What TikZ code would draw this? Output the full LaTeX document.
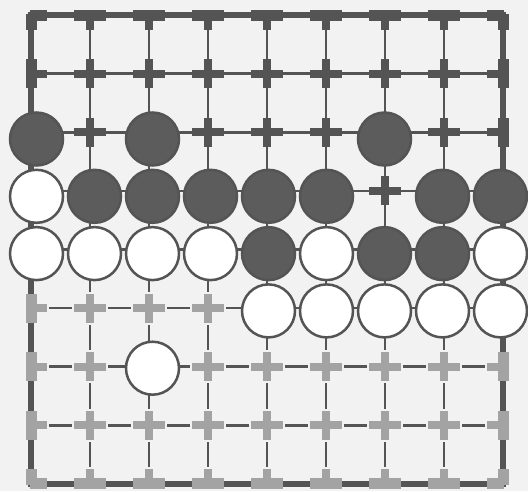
\documentclass[tikz,border=0pt]{standalone}
\definecolor{ink}{gray}{0.33}
\definecolor{paper}{gray}{0.95}
\definecolor{stoneblk}{gray}{0.36}
\definecolor{lightarm}{gray}{0.64}
\newcommand\goarms[2]{%
  \foreach \c in {1,...,9}{%
    \foreach \r in {#1}{%
      \pgfmathsetmacro\hw{(\r==1||\r==9)?5.5:4}%
      \pgfmathsetmacro\vw{(\c==1||\c==9)?5.5:4}%
      \ifnum\c<9 \path[#2,shift={(p\c-\r)}] (-1,-\hw) rectangle (16,\hw);\fi
      \ifnum\c>1 \path[#2,shift={(p\c-\r)}] (1,-\hw) rectangle (-16,\hw);\fi
      \ifnum\r>1 \path[#2,shift={(p\c-\r)}] (-\vw,1) rectangle (\vw,-14.5);\fi
      \ifnum\r<9 \path[#2,shift={(p\c-\r)}] (-\vw,-1) rectangle (\vw,14.5);\fi
    }}}
\begin{document}
\begin{tikzpicture}[x=1pt,y=-1pt,
  gridline/.style={line width=2.6pt, draw=ink},
  edgeline/.style={line width=5.5pt, draw=ink, line join=miter},
  stone/.style={circle, minimum size=53pt, inner sep=0pt, line width=2.5pt, draw=ink},
  stoneb/.style={stone, fill=stoneblk},
  stonew/.style={stone, fill=white},
]
\useasboundingbox (0,0) rectangle (528,491);
\fill[paper] (0,0) rectangle (528,491);
% intersections
\foreach \c in {1,...,9}{\foreach \r in {1,...,9}{
  \coordinate (p\c-\r) at ({31+59*(\c-1)},{15+58.6*(\r-1)});}}
% interior lines
\foreach \c in {2,...,8}{\draw[gridline] (p\c-1) -- (p\c-9);}
\foreach \r in {2,...,8}{\draw[gridline] (p1-\r) -- (p9-\r);}
% gaps round the light crosses
\goarms{6,7,8,9}{fill=paper, draw=paper, line width=4pt}
% border
\draw[edgeline] (p1-1) -- (p9-1) -- (p9-9) -- (p1-9) -- cycle;
% crosses
\goarms{1,2,3,4,5}{fill=ink}
\goarms{6,7,8,9}{fill=lightarm}
% stones
\foreach \c/\r/\k in {1/3/b,3/3/b,7/3/b,
  1/4/w,2/4/b,3/4/b,4/4/b,5/4/b,6/4/b,8/4/b,9/4/b,
  1/5/w,2/5/w,3/5/w,4/5/w,5/5/b,6/5/w,7/5/b,8/5/b,9/5/w,
  5/6/w,6/6/w,7/6/w,8/6/w,9/6/w,
  3/7/w}{
  \node[stone\k] (s\c-\r) at ({36.5+58*(\c-1)},{139+57.3*(\r-3)}) {};}
\end{tikzpicture}
\end{document}
